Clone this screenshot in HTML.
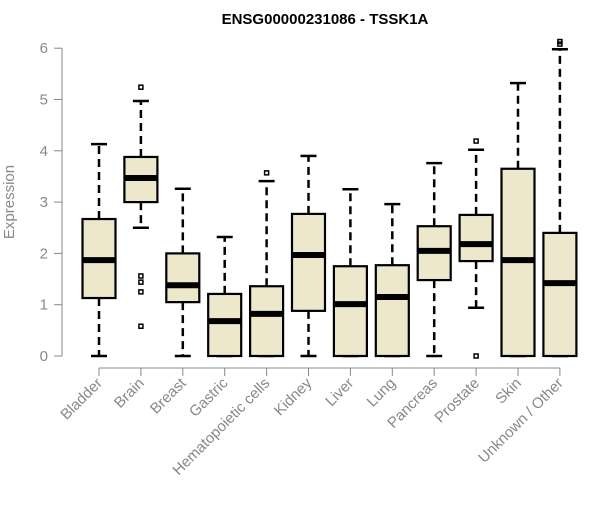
<!DOCTYPE html>
<html><head><meta charset="utf-8"><style>
body{margin:0;background:#fff}
svg{font-family:"Liberation Sans",Arial,sans-serif}
</style></head><body>
<svg id="c" width="600" height="500">
<text x="325" y="24" text-anchor="middle" font-weight="bold" font-size="15">ENSG00000231086 - TSSK1A</text>
<text transform="translate(14,202) rotate(-90)" text-anchor="middle" font-size="15" fill="#888">Expression</text>
</svg>
<script>
const categories=["Bladder","Brain","Breast","Gastric","Hematopoietic cells","Kidney","Liver","Lung","Pancreas","Prostate","Skin","Unknown / Other"];
const lowWhisker=[0,2.5,0,0,0,0,0,0,0,0.94,0,0];
const q1=[1.13,3.0,1.05,0,0,0.88,0,0,1.48,1.85,0,0];
const medians=[1.87,3.47,1.38,0.68,0.82,1.97,1.01,1.15,2.05,2.18,1.87,1.42];
const q3=[2.67,3.88,2.0,1.21,1.36,2.77,1.75,1.77,2.53,2.75,3.65,2.4];
const highWhisker=[4.13,4.97,3.26,2.32,3.41,3.9,3.25,2.96,3.76,4.02,5.32,5.98];
const outliers=[[],[5.24,1.56,1.44,1.25,0.58],[],[],[3.57],[],[],[],[],[4.19,0],[],[6.13,6.08]];
const yTicks=[0,1,2,3,4,5,6];
const NS="http://www.w3.org/2000/svg",svg=document.getElementById('c');
const y=v=>356-v*51.3, x=i=>99+i*41.9;
function mk(t,a,p){const e=document.createElementNS(NS,t);for(const k in a)e.setAttribute(k,a[k]);(p||svg).appendChild(e);return e;}
let ax=mk('line',{x1:62,x2:62,y1:y(0),y2:y(6),stroke:'#888'});


yTicks.forEach(t=>{
 mk('line',{x1:54,x2:62,y1:y(t),y2:y(t),stroke:'#888'});
 const tx=mk('text',{x:48,y:y(t)+5,'text-anchor':'end','font-size':15,fill:'#888'});tx.textContent=t;
 
 
});
let xa=mk('line',{x1:x(0),x2:x(11),y1:368,y2:368,stroke:'#888'});


categories.forEach((c,i)=>{
 const cx=x(i);
 mk('line',{x1:cx,x2:cx,y1:368,y2:376,stroke:'#888'});
 const t=mk('text',{transform:`translate(${cx+4},384) rotate(-45)`,'text-anchor':'end','font-size':15,fill:'#888'});t.textContent=c;
 
 
 const g=mk('g',{});
 
 
 mk('line',{x1:cx,x2:cx,y1:y(q3[i]),y2:y(highWhisker[i]),stroke:'#000','stroke-width':2.5,'stroke-dasharray':'8,5'},g);
 mk('line',{x1:cx,x2:cx,y1:y(q1[i]),y2:y(lowWhisker[i]),stroke:'#000','stroke-width':2.5,'stroke-dasharray':'8,5'},g);
 mk('line',{x1:cx-8,x2:cx+8,y1:y(highWhisker[i]),y2:y(highWhisker[i]),stroke:'#000','stroke-width':2.5},g);
 mk('line',{x1:cx-8,x2:cx+8,y1:y(lowWhisker[i]),y2:y(lowWhisker[i]),stroke:'#000','stroke-width':2.5},g);
 mk('rect',{x:cx-16.5,y:y(q3[i]),width:33,height:y(q1[i])-y(q3[i]),fill:'#ede7cc',stroke:'#000','stroke-width':2.2},g);
 mk('line',{x1:cx-16.5,x2:cx+16.5,y1:y(medians[i]),y2:y(medians[i]),stroke:'#000','stroke-width':6},g);
 outliers[i].forEach(o=>mk('rect',{x:cx-2,y:y(o)-2,width:4,height:4,fill:'none',stroke:'#000','stroke-width':1.5},g));
});
</script>
</body></html>
